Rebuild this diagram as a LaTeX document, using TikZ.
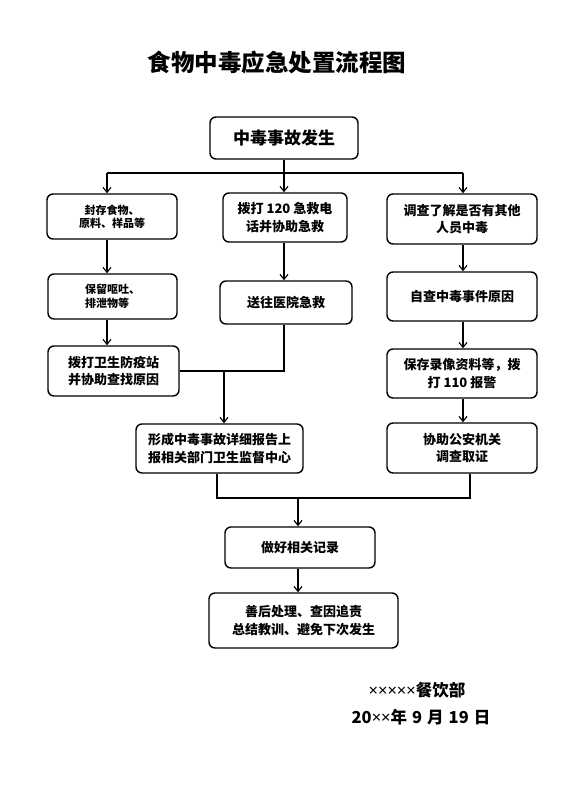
\documentclass[tikz,border=0pt]{standalone}
\usepackage{fontspec}
\setmainfont{Noto Sans CJK SC}
\newfontfamily\latfont{Noto Sans}
\newcommand{\tms}{{\latfont\bfseries ×}}
\usetikzlibrary{arrows.meta}
\tikzset{
  box/.style={draw, line width=1.4pt, rounded corners=6pt, align=center, inner sep=0pt, fill=white},
  txt/.style={font=\bfseries\fontsize{13}{17.5}\selectfont},
  small/.style={font=\bfseries\fontsize{11}{13.5}\selectfont},
  foot/.style={font=\bfseries\fontsize{16.5}{19}\selectfont},
  conn/.style={line width=1.2pt},
  arr/.style={conn, -{Straight Barb[length=5pt,width=8pt,line width=1.1pt]}},
}
\begin{document}
\begin{tikzpicture}[x=1pt,y=-1pt]
\useasboundingbox (0,0) rectangle (560,792);
\node[font=\bfseries\fontsize{23.5}{26}\selectfont] (title) at (277,62) {食物中毒应急处置流程图};

\node[box, font=\bfseries\fontsize{17}{20}\selectfont, minimum width=148pt, minimum height=42pt] (n1) at (284,138) {中毒事故发生};

\node[box, small, minimum width=130pt, minimum height=45pt] (L1) at (112,216.5) {封存食物、\\原料、样品等};
\node[box, txt, minimum width=124pt, minimum height=49pt] (M1) at (285,217.5) {拨打 120 急救电\\话并协助急救};
\node[box, txt, minimum width=150pt, minimum height=50pt] (R1) at (462,219) {调查了解是否有其他\\人员中毒};

\node[box, small, align=left, minimum width=129pt, minimum height=45pt] (L2) at (112.5,296.5) {保留呕吐、\\排泄物等\hspace*{9pt}};
\node[box, txt, minimum width=132pt, minimum height=43pt] (M2) at (286,302.5) {送往医院急救};
\node[box, txt, minimum width=150pt, minimum height=49pt] (R2) at (462,296.5) {自查中毒事件原因};

\node[box, txt, minimum width=131pt, minimum height=50pt] (L3) at (113.5,371) {拨打卫生防疫站\\并协助查找原因};
\node[box, txt, minimum width=150pt, minimum height=49pt] (R3) at (462,373.5) {保存录像资料等，拨\\打 110 报警};

\node[box, txt, minimum width=167pt, minimum height=49pt] (F) at (219.5,448.5) {形成中毒事故详细报告上\\报相关部门卫生监督中心};
\node[box, txt, minimum width=150pt, minimum height=50pt] (R4) at (462,448) {协助公安机关\\调查取证};

\node[box, txt, minimum width=150pt, minimum height=41pt] (D) at (300,547.5) {做好相关记录};
\node[box, txt, minimum width=189pt, minimum height=55pt] (S) at (303.5,620.5) {善后处理、查因追责\\总结教训、避免下次发生};

\node[foot] (org) at (417,690) {\tms\tms\tms\tms\tms 餐饮部};
\node[foot] (date) at (421,717) {20\tms\tms 年\hspace{5pt}9\hspace{5pt}月\hspace{5pt}19\hspace{5pt}日};

% junctions
\coordinate (jl) at (107,173);
\coordinate (jm) at (284,173);
\coordinate (jr) at (463,173);
\coordinate (jf) at (224,371);
\coordinate (bl) at (217,498);
\coordinate (br) at (470,498);
\coordinate (bd) at (298,498);

\draw[conn] (n1.south) -- (jm);
\draw[conn] (jl) -- (jr);
\draw[arr] (jl) -- (jl |- L1.north);
\draw[arr] (jm) -- (jm |- M1.north);
\draw[arr] (jr) -- (jr |- R1.north);

\draw[arr] (jl |- L1.south) -- (jl |- L2.north);
\draw[arr] (jl |- L2.south) -- (jl |- L3.north);
\draw[arr] (jm |- M1.south) -- (jm |- M2.north);
\draw[arr] (jr |- R1.south) -- (jr |- R2.north);
\draw[arr] (jr |- R2.south) -- (jr |- R3.north);
\draw[arr] (jr |- R3.south) -- (jr |- R4.north);

\draw[conn] (jm |- M2.south) |- (L3.east);
\draw[arr] (jf) -- (jf |- F.north);

\draw[conn] (bl |- F.south) -- (bl) -- (br) -- (br |- R4.south);
\draw[arr] (bd) -- (bd |- D.north);
\draw[arr] (bd |- D.south) -- (bd |- S.north);
\end{tikzpicture}
\end{document}
